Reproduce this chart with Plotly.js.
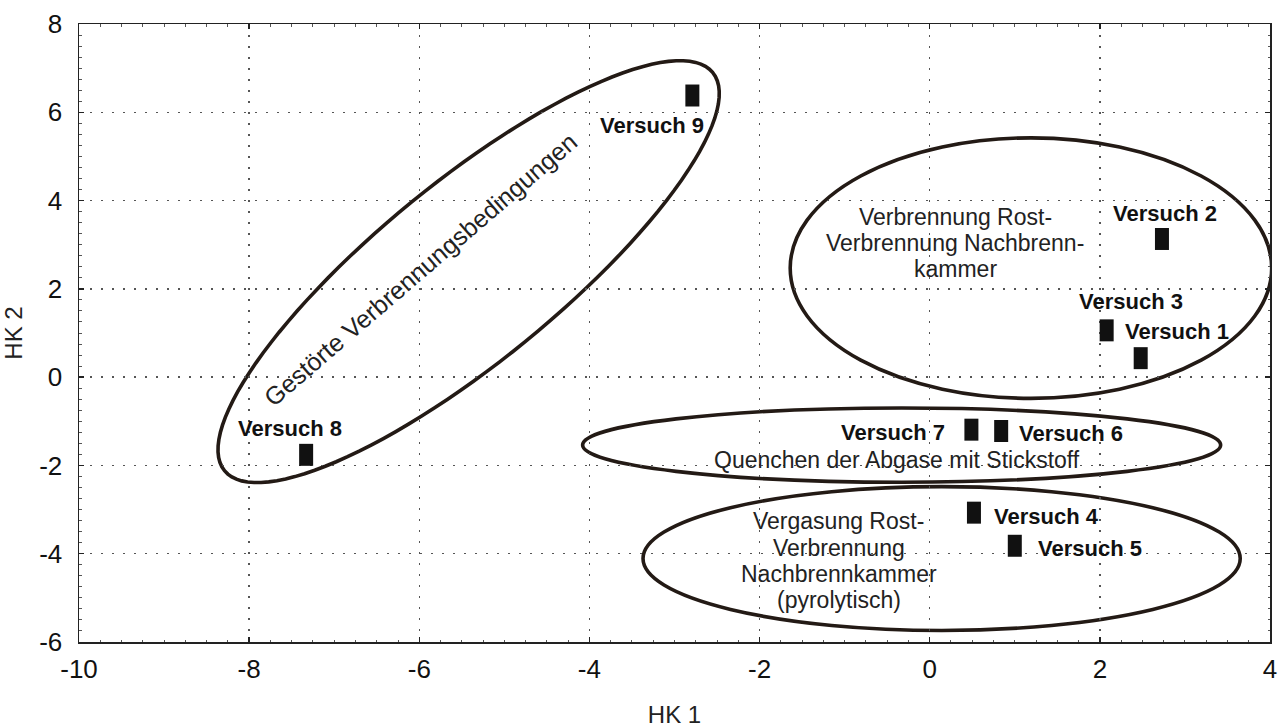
<!DOCTYPE html>
<html>
<head>
<meta charset="utf-8">
<script src="https://cdn.plot.ly/plotly-3.0.1.min.js"></script>
<style>html,body{margin:0;padding:0;background:#fff;}#chart{width:1284px;height:728px;}</style>
</head>
<body>
<div id="chart"></div>
<script>
// ---- data ----
const categories = ['Versuch 1','Versuch 2','Versuch 3','Versuch 4','Versuch 5','Versuch 6','Versuch 7','Versuch 8','Versuch 9'];
const hk1 = [2.48, 2.73, 2.08, 0.52, 1.00, 0.84, 0.49, -7.33, -2.79];
const hk2 = [0.43, 3.13, 1.06, -3.07, -3.82, -1.22, -1.19, -1.76, 6.38];
const xTicks = [-10, -8, -6, -4, -2, 0, 2, 4];
const xTickText = ['-10', '-8', '-6', '-4', '-2', '0', '2', '4'];
const yTicks = [-6, -4, -2, 0, 2, 4, 6, 8];
const yTickText = ['-6', '-4', '-2', '0', '2', '4', '6', '8'];
const groupNames = ['Gestörte Verbrennungsbedingungen',
  'Verbrennung Rost-|Verbrennung Nachbrenn-|kammer',
  'Quenchen der Abgase mit Stickstoff',
  'Vergasung Rost-|Verbrennung|Nachbrennkammer|(pyrolytisch)'];

// ---- layout helpers (positions / styles) ----
const W = 1284, H = 728;
const M = {l: 79, r: 14, t: 24, b: 86};
const xRange = [-10, 4], yRange = [-6, 8];
const kx = (W - M.l - M.r) / (xRange[1] - xRange[0]);
const ky = (H - M.t - M.b) / (yRange[1] - yRange[0]);
const FONT = 'Liberation Sans, Arial, Helvetica, sans-serif';
const INK = '#231a15';

// label offsets in px (dx right, dy down) relative to each point
const labelOffsets = [[36,-27],[3,-25],[24,-29],[73,4],[75,3],[70,2],[-78,3],[-16,-26],[-40,30]];

// group ellipses
const boxEllipses = [
  {x0: -1.64, x1: 4.02, y0: -0.48, y1: 5.42},
  {x0: -4.08, x1: 3.42, y0: -2.38, y1: -0.70},
  {x0: -3.37, x1: 3.65, y0: -5.74, y1: -2.48}
];
const tilted = {cx: -5.42, cy: 2.39, a: 315, b: 90, deg: 39.2};

function tiltedPath(e) {
  const th = e.deg * Math.PI / 180;
  let p = '';
  const n = 120;
  for (let i = 0; i <= n; i++) {
    const t = 2 * Math.PI * i / n;
    const dx = e.a * Math.cos(th) * Math.cos(t) - e.b * Math.sin(th) * Math.sin(t);
    const dy = e.a * Math.sin(th) * Math.cos(t) + e.b * Math.cos(th) * Math.sin(t);
    const x = e.cx + dx / kx, y = e.cy + dy / ky;
    p += (i === 0 ? 'M' : 'L') + x.toFixed(4) + ',' + y.toFixed(4);
  }
  return p + 'Z';
}

const shapes = boxEllipses.map(e => ({
  type: 'circle', xref: 'x', yref: 'y', x0: e.x0, x1: e.x1, y0: e.y0, y1: e.y1,
  line: {color: INK, width: 3.6}, layer: 'below'
}));
shapes.push({type: 'path', xref: 'x', yref: 'y', path: tiltedPath(tilted),
  line: {color: INK, width: 3.6}, layer: 'below'});

// annotations: point labels
const annotations = categories.map((c, i) => ({
  x: hk1[i], y: hk2[i], xref: 'x', yref: 'y', text: '<b>' + c + '</b>', showarrow: false,
  xanchor: 'center', yanchor: 'middle',
  xshift: labelOffsets[i][0], yshift: -labelOffsets[i][1],
  font: {family: FONT, size: 22, color: '#111'}
}));

// group labels
const groupPos = [
  {x: -5.98, y: [2.44], angle: -40.7, size: 25},
  {x: 0.30, y: [3.62, 3.04, 2.45], angle: 0, size: 23},
  {x: -0.39, y: [-1.87], angle: 0, size: 23},
  {x: -1.07, y: [-3.26, -3.86, -4.46, -5.05], angle: 0, size: 23}
];
groupNames.forEach((g, gi) => {
  const lines = g.split('|');
  lines.forEach((ln, li) => {
    annotations.push({
      x: groupPos[gi].x, y: groupPos[gi].y[li], xref: 'x', yref: 'y', text: ln,
      showarrow: false, xanchor: 'center', yanchor: 'middle', textangle: groupPos[gi].angle,
      font: {family: FONT, size: groupPos[gi].size, color: '#222'}
    });
  });
});

const trace = {
  x: hk1, y: hk2, text: categories, type: 'scatter', mode: 'markers',
  marker: {symbol: 'line-ns', size: 15.7, color: '#111', line: {width: 14, color: '#111'}},
  hoverinfo: 'text+x+y', cliponaxis: false
};

const axisCommon = {
  showline: true, linecolor: '#222', linewidth: 1.5, mirror: 'ticks',
  ticks: 'inside', ticklen: 5, tickcolor: '#222', tickwidth: 1.3,
  showgrid: true, gridcolor: '#555', gridwidth: 1.3, griddash: '2px,9px',
  zeroline: false,
  tickfont: {family: FONT, size: 26, color: '#111'},
  minor: {dtick: 0.25, ticks: 'inside', ticklen: 2.5, tickcolor: '#555', tickwidth: 1, showgrid: false}
};

const layout = {
  width: W, height: H, margin: {l: M.l, r: M.r, t: M.t, b: M.b, pad: 0},
  paper_bgcolor: '#fff', plot_bgcolor: '#fff', showlegend: false,
  xaxis: Object.assign({}, axisCommon, {range: xRange, tickmode: 'array', tickvals: xTicks, ticktext: xTickText,
    ticklabelstandoff: 3,
    title: {text: 'HK 1', font: {family: FONT, size: 24, color: '#222'}, standoff: 30}}),
  yaxis: Object.assign({}, axisCommon, {range: yRange, tickmode: 'array', tickvals: yTicks, ticktext: yTickText,
    ticklabelstandoff: 10,
    title: {text: 'HK 2', font: {family: FONT, size: 24, color: '#222'}, standoff: 10}}),
  shapes: shapes, annotations: annotations
};

Plotly.newPlot('chart', [trace], layout, {displayModeBar: false, staticPlot: true});
</script>
</body>
</html>
